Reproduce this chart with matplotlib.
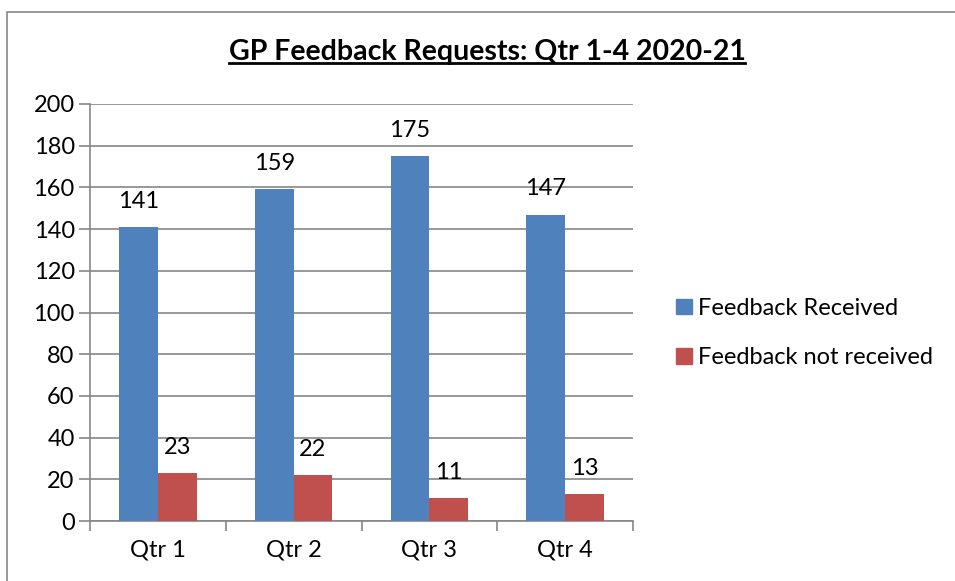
import matplotlib
matplotlib.use("Agg")
import matplotlib.pyplot as plt
import numpy as np
from matplotlib.patches import Rectangle
from matplotlib.lines import Line2D

categories = ["Qtr 1", "Qtr 2", "Qtr 3", "Qtr 4"]
received = [141, 159, 175, 147]
not_received = [23, 22, 11, 13]
series_names = ["Feedback Received", "Feedback not received"]
title = "GP Feedback Requests: Qtr 1-4 2020-21"

plt.rcParams['font.family'] = ['Lato', 'DejaVu Sans']

fig = plt.figure(figsize=(9.55, 5.81), dpi=100)
ax = fig.add_axes([90/955, 1-521/581, (633-90)/955, (521-104)/581])

x = np.arange(len(categories))
w = 0.285
blue = "#4F81BD"
red = "#C0504D"
b1 = ax.bar(x - w/2, received, w, color=blue, label=series_names[0], zorder=3)
b2 = ax.bar(x + w/2, not_received, w, color=red, label=series_names[1], zorder=3)

for bars in (b1, b2):
    for r in bars:
        ax.annotate(f"{int(r.get_height())}", (r.get_x() + r.get_width()/2, r.get_height()),
                    xytext=(0, 11), textcoords="offset points", ha="center", va="bottom",
                    fontsize=17, color="black")

ax.set_xlim(-0.5, len(categories) - 0.5)
ax.set_ylim(0, 200)
ax.set_yticks(np.arange(0, 201, 20))
ax.yaxis.grid(True, color="#868686", linewidth=1.2, zorder=0)
ax.set_axisbelow(True)
ax.set_xticks(x)
ax.set_xticklabels(categories)
ax.set_xticks(np.arange(-0.5, len(categories), 1), minor=True)
ax.tick_params(axis="x", which="major", length=0, pad=13, labelsize=17)
ax.tick_params(axis="x", which="minor", length=7, color="#868686", width=1.2, direction="out")
ax.tick_params(axis="y", length=8, color="#868686", width=1.2, labelsize=17, pad=3, direction="out")
for s in ["top", "right"]:
    ax.spines[s].set_visible(False)
for s in ["left", "bottom"]:
    ax.spines[s].set_color("#868686")
    ax.spines[s].set_linewidth(1.2)

handles = [Rectangle((0, 0), 1, 1, color=blue), Rectangle((0, 0), 1, 1, color=red)]
fig.legend(handles, series_names, loc="center left", bbox_to_anchor=(655/955, 1-333/581),
           frameon=False, fontsize=17, handlelength=0.65, handleheight=0.65,
           handletextpad=0.25, labelspacing=1.2)

t = fig.text(487/955, 1-52/581, title, ha="center", va="center", fontsize=20.5, fontweight="bold")
fig.canvas.draw()
bb = t.get_window_extent()
inv = fig.transFigure.inverted()
(x0, y0), (x1, y1) = inv.transform([[bb.x0, bb.y0], [bb.x1, bb.y1]])
fig.add_artist(Line2D([x0, x1], [y0 + 0.003, y0 + 0.003], color="black", linewidth=2,
                      transform=fig.transFigure))

fig.add_artist(Rectangle((7/955, -0.1), 1.2, 1 - 12/581 + 0.1, transform=fig.transFigure,
                         fill=False, edgecolor="#888888", linewidth=1.2))

fig.savefig("out.png", dpi=100)
